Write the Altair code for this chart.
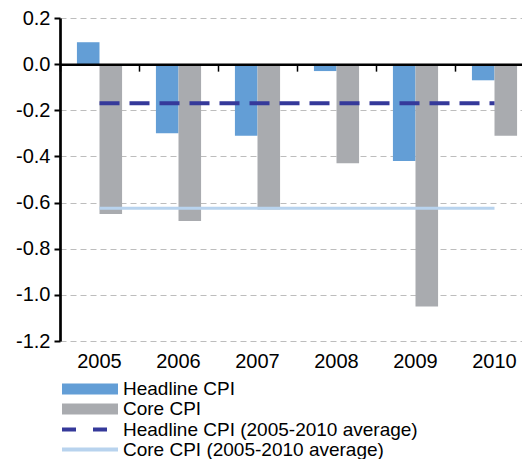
import altair as alt
import pandas as pd

YEARS = ["2005", "2006", "2007", "2008", "2009", "2010"]
HEADLINE = [0.095, -0.30, -0.31, -0.03, -0.42, -0.07]
CORE = [-0.65, -0.68, -0.63, -0.43, -1.05, -0.31]
HEADLINE_AVG = -0.17
CORE_AVG = -0.625
BAR_SERIES = ["Headline CPI", "Core CPI"]
AVG_SERIES = ["Headline CPI (2005-2010 average)", "Core CPI (2005-2010 average)"]
Y_TICKS = [0.2, 0.0, -0.2, -0.4, -0.6, -0.8, -1.0, -1.2]

BAR_COLORS = ["#639ed6", "#a9abaf"]
AVG_COLORS = ["#35399a", "#b8d3ee"]
FONT = "Liberation Sans"

bars_df = pd.DataFrame({
    "year": YEARS * 2,
    "series": [BAR_SERIES[0]] * len(YEARS) + [BAR_SERIES[1]] * len(YEARS),
    "value": HEADLINE + CORE,
})
avg_df = pd.DataFrame({
    "year": YEARS * 2,
    "avg": [AVG_SERIES[0]] * len(YEARS) + [AVG_SERIES[1]] * len(YEARS),
    "value": [HEADLINE_AVG] * len(YEARS) + [CORE_AVG] * len(YEARS),
})

PLOT_H = 323
x_scale = alt.Scale(domain=YEARS, range=[0, 474], paddingInner=0, paddingOuter=0)
y_scale = alt.Scale(domain=[-1.2, 0.2], nice=False, zero=False)

y_axis = alt.Axis(values=Y_TICKS,
                  labelExpr="replace(format(datum.value, '.1f'), '\u2212', '-')",
                  labelFontSize=20, labelFont=FONT, labelColor="black", labelPadding=4,
                  domainColor="black", domainWidth=2.7,
                  tickColor="black", tickWidth=2, tickSize=6,
                  grid=True, gridColor="#bdbdbd", gridDash=[6, 4], gridWidth=1)

LEG_FONT = 19
ROW_H = 20

bars = alt.Chart(bars_df).mark_bar().encode(
    x=alt.X("year:N", scale=x_scale, title=None, sort=YEARS,
            axis=alt.Axis(orient="bottom", domain=False, ticks=False, tickSize=0,
                          labelPadding=10, labelFontSize=20, labelColor="black",
                          labelFont=FONT, labelAngle=0, grid=False)),
    xOffset=alt.XOffset("series:N", sort=BAR_SERIES,
                        scale=alt.Scale(domain=BAR_SERIES, paddingInner=0, paddingOuter=0.75)),
    y=alt.Y("value:Q", scale=y_scale, title=None, axis=y_axis),
    y2=alt.datum(0),
    color=alt.Color("series:N",
                    scale=alt.Scale(domain=BAR_SERIES, range=BAR_COLORS),
                    legend=alt.Legend(orient="none", legendX=2, legendY=361, title=None,
                                      symbolType="M-1,-0.2H1V0.2H-1Z", symbolSize=3136,
                                      symbolStrokeWidth=0, clipHeight=ROW_H, rowPadding=0,
                                      labelOffset=5, labelFontSize=LEG_FONT, labelFont=FONT,
                                      labelColor="black", labelLimit=500, padding=0,
                                      symbolOpacity=1)),
)

dash_expr = "datum.value == '%s' ? [14, 17] : [1, 0]" % AVG_SERIES[0]

line_legend = alt.Legend(orient="none", legendX=0, legendY=401.5, title=None,
                         symbolType="stroke", symbolSize=3136, symbolStrokeWidth=4,
                         symbolDash={"expr": dash_expr},
                         clipHeight=ROW_H, rowPadding=0, labelOffset=3, labelFontSize=LEG_FONT,
                         labelFont=FONT, labelColor="black", labelLimit=500, padding=0)

lines = alt.Chart(avg_df).mark_line().encode(
    x=alt.X("year:N", scale=x_scale, title=None, sort=YEARS,
            axis=alt.Axis(orient="bottom", offset=-(PLOT_H * 1.2 / 1.4), labels=False,
                          domain=True, domainColor="black", domainWidth=2.5, ticks=True,
                          tickColor="black", tickSize=7, tickWidth=1.5, bandPosition=0,
                          grid=False, zindex=1)),
    y=alt.Y("value:Q", scale=y_scale, title=None, axis=y_axis),
    color=alt.Color("avg:N", scale=alt.Scale(domain=AVG_SERIES, range=AVG_COLORS),
                    legend=line_legend),
    strokeDash=alt.StrokeDash("avg:N",
                              scale=alt.Scale(domain=AVG_SERIES, range=[[20, 10], [1, 0]]),
                              legend=None),
    size=alt.Size("avg:N", scale=alt.Scale(domain=AVG_SERIES, range=[4, 3]), legend=None),
)

chart = alt.layer(bars, lines).resolve_scale(
    color="independent"
).resolve_axis(
    x="independent"
).properties(
    width=462,
    height=PLOT_H,
    autosize=alt.AutoSizeParams(type="none"),
    padding={"left": 52, "top": 10, "right": 0, "bottom": 118},
    background="white",
).configure_view(stroke=None)

chart.save("out.html", embed_options={"renderer": "svg", "actions": False})
